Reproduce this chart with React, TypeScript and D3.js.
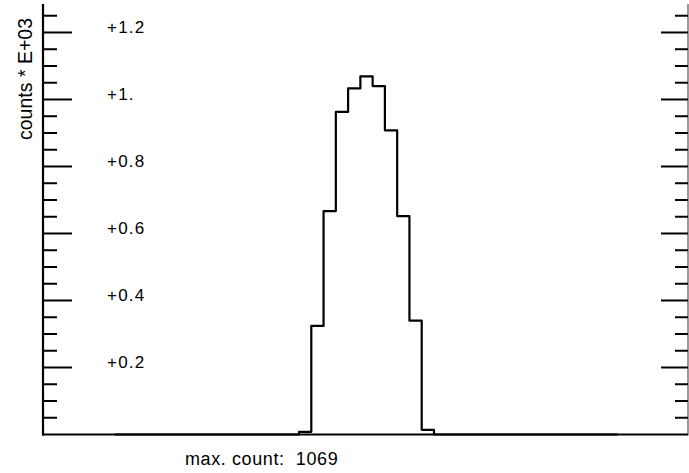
import React from "react";
import * as d3 from "d3";

// ---- data ----
const binCounts: number[] = [
  0, 0, 0, 0, 0, 0, 0, 0, 0, 0, 0, 0, 0, 0, 0,
  8, 324, 667, 963, 1033, 1069, 1040, 908, 652, 340, 14,
  0, 0, 0, 0, 0, 0, 0, 0, 0, 0, 0, 0, 0, 0, 0,
];
const majorTickValues: number[] = [0.2, 0.4, 0.6, 0.8, 1.0, 1.2];
const majorTickLabels: string[] = ["+0.2", "+0.4", "+0.6", "+0.8", "+1.", "+1.2"];
const yAxisTitle = "counts * E+03";
const maxCountLabel = "max. count:\u00a0\u00a01069";

const W = 689;
const H = 473;
const FONT = "'Liberation Sans', Arial, Helvetica, sans-serif";

export default function App() {
  const axisLeft = 43;
  const axisRight = 688;
  const y0 = 434.5;

  const yScale = d3.scaleLinear().domain([0, 1.285]).range([y0, 4]);
  const xScale = d3.scaleLinear().domain([0, binCounts.length]).range([115, 618]);

  const minorTicks = d3.range(1, 26).map((i) => i * 0.05).filter(
    (v) => !majorTickValues.some((m) => Math.abs(m - v) < 1e-6)
  );

  const pts: [number, number][] = binCounts.map((c, i) => [i, c / 1000]);
  pts.push([binCounts.length, binCounts[binCounts.length - 1] / 1000]);
  const line = d3
    .line<[number, number]>()
    .x((d) => xScale(d[0]))
    .y((d) => yScale(d[1]))
    .curve(d3.curveStepAfter);

  return (
    <div style={{ position: "fixed", left: 0, top: 0 }}>
      <svg width={W} height={H} style={{ display: "block", background: "#fff" }}>
        {/* axes */}
        <line x1={axisLeft} y1={4} x2={axisLeft} y2={y0 + 1} stroke="#000" strokeWidth={2.2} />
        <line x1={axisRight} y1={4} x2={axisRight} y2={y0 + 1} stroke="#555" strokeWidth={1.2} />
        <line x1={axisLeft - 1} y1={y0} x2={axisRight} y2={y0} stroke="#000" strokeWidth={2} />

        {/* minor ticks */}
        {minorTicks.map((v) => (
          <g key={"mi" + v}>
            <line x1={axisLeft} x2={axisLeft + 14} y1={yScale(v)} y2={yScale(v)} stroke="#000" strokeWidth={2} />
            <line x1={axisRight - 13} x2={axisRight} y1={yScale(v)} y2={yScale(v)} stroke="#000" strokeWidth={2} />
          </g>
        ))}
        {/* major ticks */}
        {majorTickValues.map((v, i) => (
          <g key={"ma" + v}>
            <line x1={axisLeft} x2={axisLeft + 29} y1={yScale(v)} y2={yScale(v)} stroke="#000" strokeWidth={2} />
            <line x1={axisRight - 27} x2={axisRight} y1={yScale(v)} y2={yScale(v)} stroke="#000" strokeWidth={2} />
            <text
              x={107}
              y={yScale(v) + 0.5}
              fontFamily={FONT}
              fontSize={17}
              letterSpacing={1.2}
              fill="#000"
            >
              {majorTickLabels[i]}
            </text>
          </g>
        ))}

        {/* histogram */}
        <path d={line(pts) || ""} fill="none" stroke="#000" strokeWidth={2.2} strokeLinejoin="round" />

        {/* y title */}
        <text
          transform={`translate(32, 79) rotate(-90)`}
          textAnchor="middle"
          fontFamily={FONT}
          fontSize={19.5}
          fill="#000"
        >
          {yAxisTitle}
        </text>

        {/* max count */}
        <text x={185} y={465} fontFamily={FONT} fontSize={18} letterSpacing={0.6} fill="#000">
          {maxCountLabel}
        </text>
      </svg>
    </div>
  );
}
